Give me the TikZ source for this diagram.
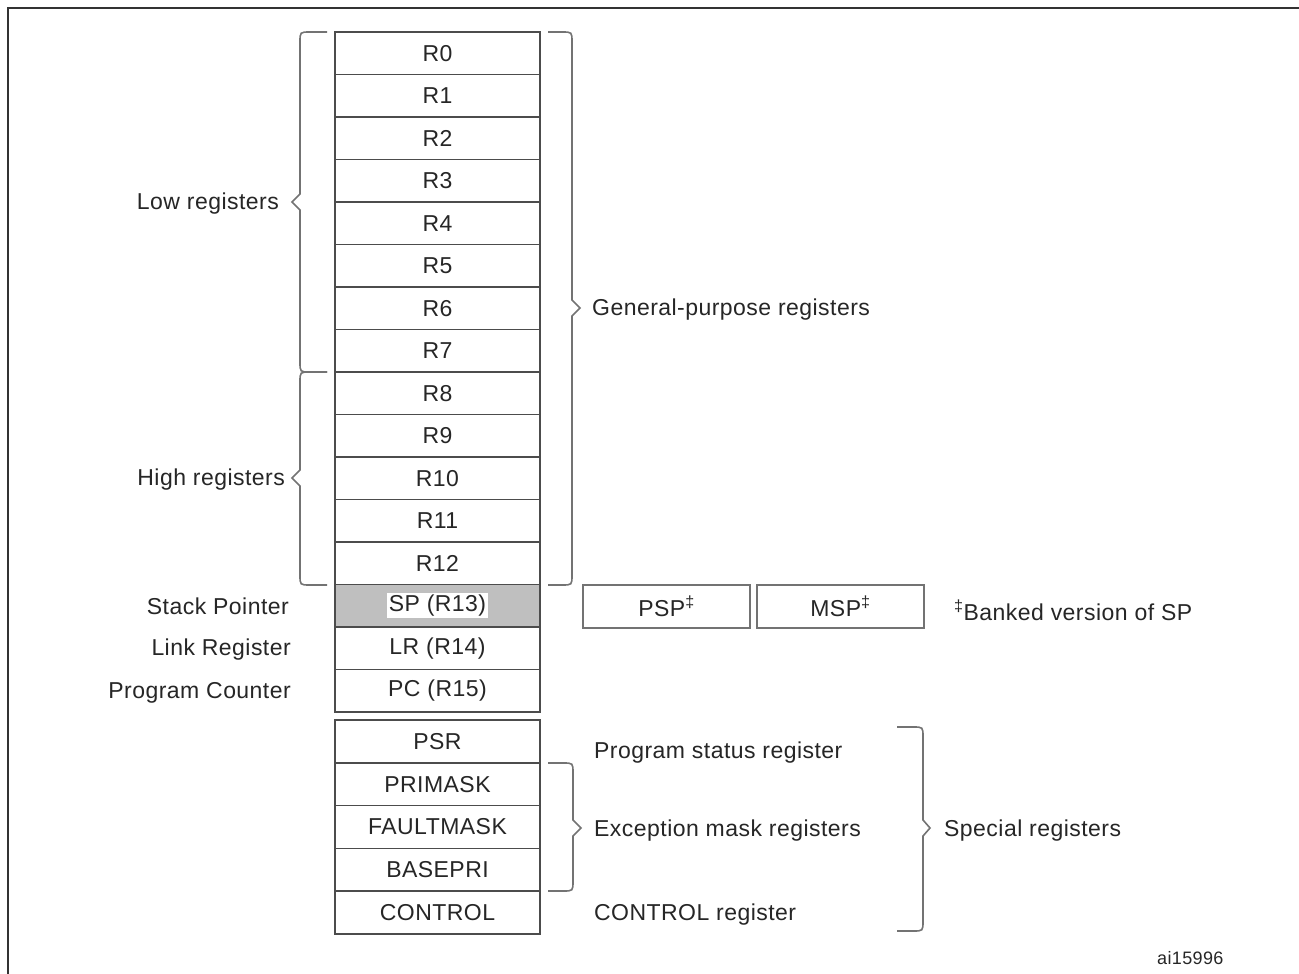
\documentclass[tikz,border=0pt]{standalone}
\usepackage{fontspec}
\setmainfont{Liberation Sans}[LetterSpace=2]
\begin{document}
\begin{tikzpicture}[x=1pt,y=-1pt,
  every node/.style={font=\fontsize{23}{27}\selectfont, text=black!85},
  reg/.style={draw=black!70, line width=1.6pt, minimum width=205pt, minimum height=42.5pt, inner sep=0pt},
  regb/.style={reg, minimum height=42.8pt},
  spbox/.style={draw=black!55, line width=1.5pt, minimum width=167pt, minimum height=43pt, inner sep=0pt},
  bracestyle/.style={draw=black!55, line width=1.6pt},
  lbl/.style={anchor=east, inner sep=0pt},
  rlbl/.style={anchor=west, inner sep=0pt},
  frame/.style={draw=black!80, line width=2.5pt}]
\useasboundingbox (0,0) rectangle (1299,974);
\fill[white] (0,0) rectangle (1299,974);
% frame
\coordinate (fbl) at (8,974);
\coordinate (ftl) at (8,8);
\coordinate (ftr) at (1299,8);
\draw[frame] (fbl) -- (ftl) -- (ftr);
% registers
\foreach \n [count=\i from 0] in {R0,R1,R2,R3,R4,R5,R6,R7,R8,R9,R10,R11,R12} {
  \node[reg] (r\i) at (437.5,{32+42.5*(\i+0.5)}) {\n};
}
\node[reg, fill=black!25] (sp) at (437.5,{32+42.5*13.5}) {};
\node[fill=white, inner sep=2pt] (sptext) at (sp.center) {SP (R13)};
\node[reg] (lr) at (437.5,{32+42.5*14.5}) {LR (R14)};
\node[reg] (pc) at (437.5,{32+42.5*15.5}) {PC (R15)};
\foreach \n/\m [count=\j from 0] in {PSR/psr,PRIMASK/primask,FAULTMASK/faultmask,BASEPRI/basepri,CONTROL/control} {
  \node[regb] (\m) at (437.5,{720+42.8*(\j+0.5)}) {\n};
}
% banked SP
\node[spbox] (psp) at (666.5,606.5) {PSP\textsuperscript{‡}};
\node[spbox] (msp) at (840.5,606.5) {MSP\textsuperscript{‡}};
\node[rlbl] (banked) at (954,610) {\textsuperscript{‡}Banked version of SP};
% left labels
\node[lbl] (low) at (279,204) {Low registers};
\node[lbl] (high) at (285,480) {High registers};
\node[lbl] (splbl) at (289,606) {Stack Pointer};
\node[lbl] (lrlbl) at (291,650) {Link Register};
\node[lbl] (pclbl) at (291,693) {Program Counter};
% right labels
\node[rlbl] (gp) at (592,310) {General-purpose registers};
\node[rlbl] (psrlbl) at (594,753) {Program status register};
\node[rlbl] (exclbl) at (594,831) {Exception mask registers};
\node[rlbl] (ctllbl) at (594,915) {CONTROL register};
\node[rlbl] (special) at (944,831) {Special registers};
\node[rlbl, font=\fontsize{18}{21}\selectfont] (code) at (1157,958) {ai15996};
% braces
\draw[bracestyle] (327,32) -- (310,32) .. controls (300,32) .. (300,42) -- (300,194) -- (292,202) -- (300,210) -- (300,362) .. controls (300,372) .. (310,372) -- (327,372);
\draw[bracestyle] (327,372) -- (310,372) .. controls (300,372) .. (300,382) -- (300,470) -- (292,478) -- (300,486) -- (300,575) .. controls (300,585) .. (310,585) -- (327,585);
\draw[bracestyle] (548,32) -- (562,32) .. controls (572,32) .. (572,42) -- (572,300) -- (580,308) -- (572,316) -- (572,575) .. controls (572,585) .. (562,585) -- (548,585);
\draw[bracestyle] (548,763) -- (563,763) .. controls (573,763) .. (573,773) -- (573,820) -- (581,828) -- (573,836) -- (573,881) .. controls (573,891) .. (563,891) -- (548,891);
\draw[bracestyle] (897,727) -- (913,727) .. controls (923,727) .. (923,737) -- (923,820) -- (930,828) -- (923,836) -- (923,921) .. controls (923,931) .. (913,931) -- (897,931);
\end{tikzpicture}
\end{document}
